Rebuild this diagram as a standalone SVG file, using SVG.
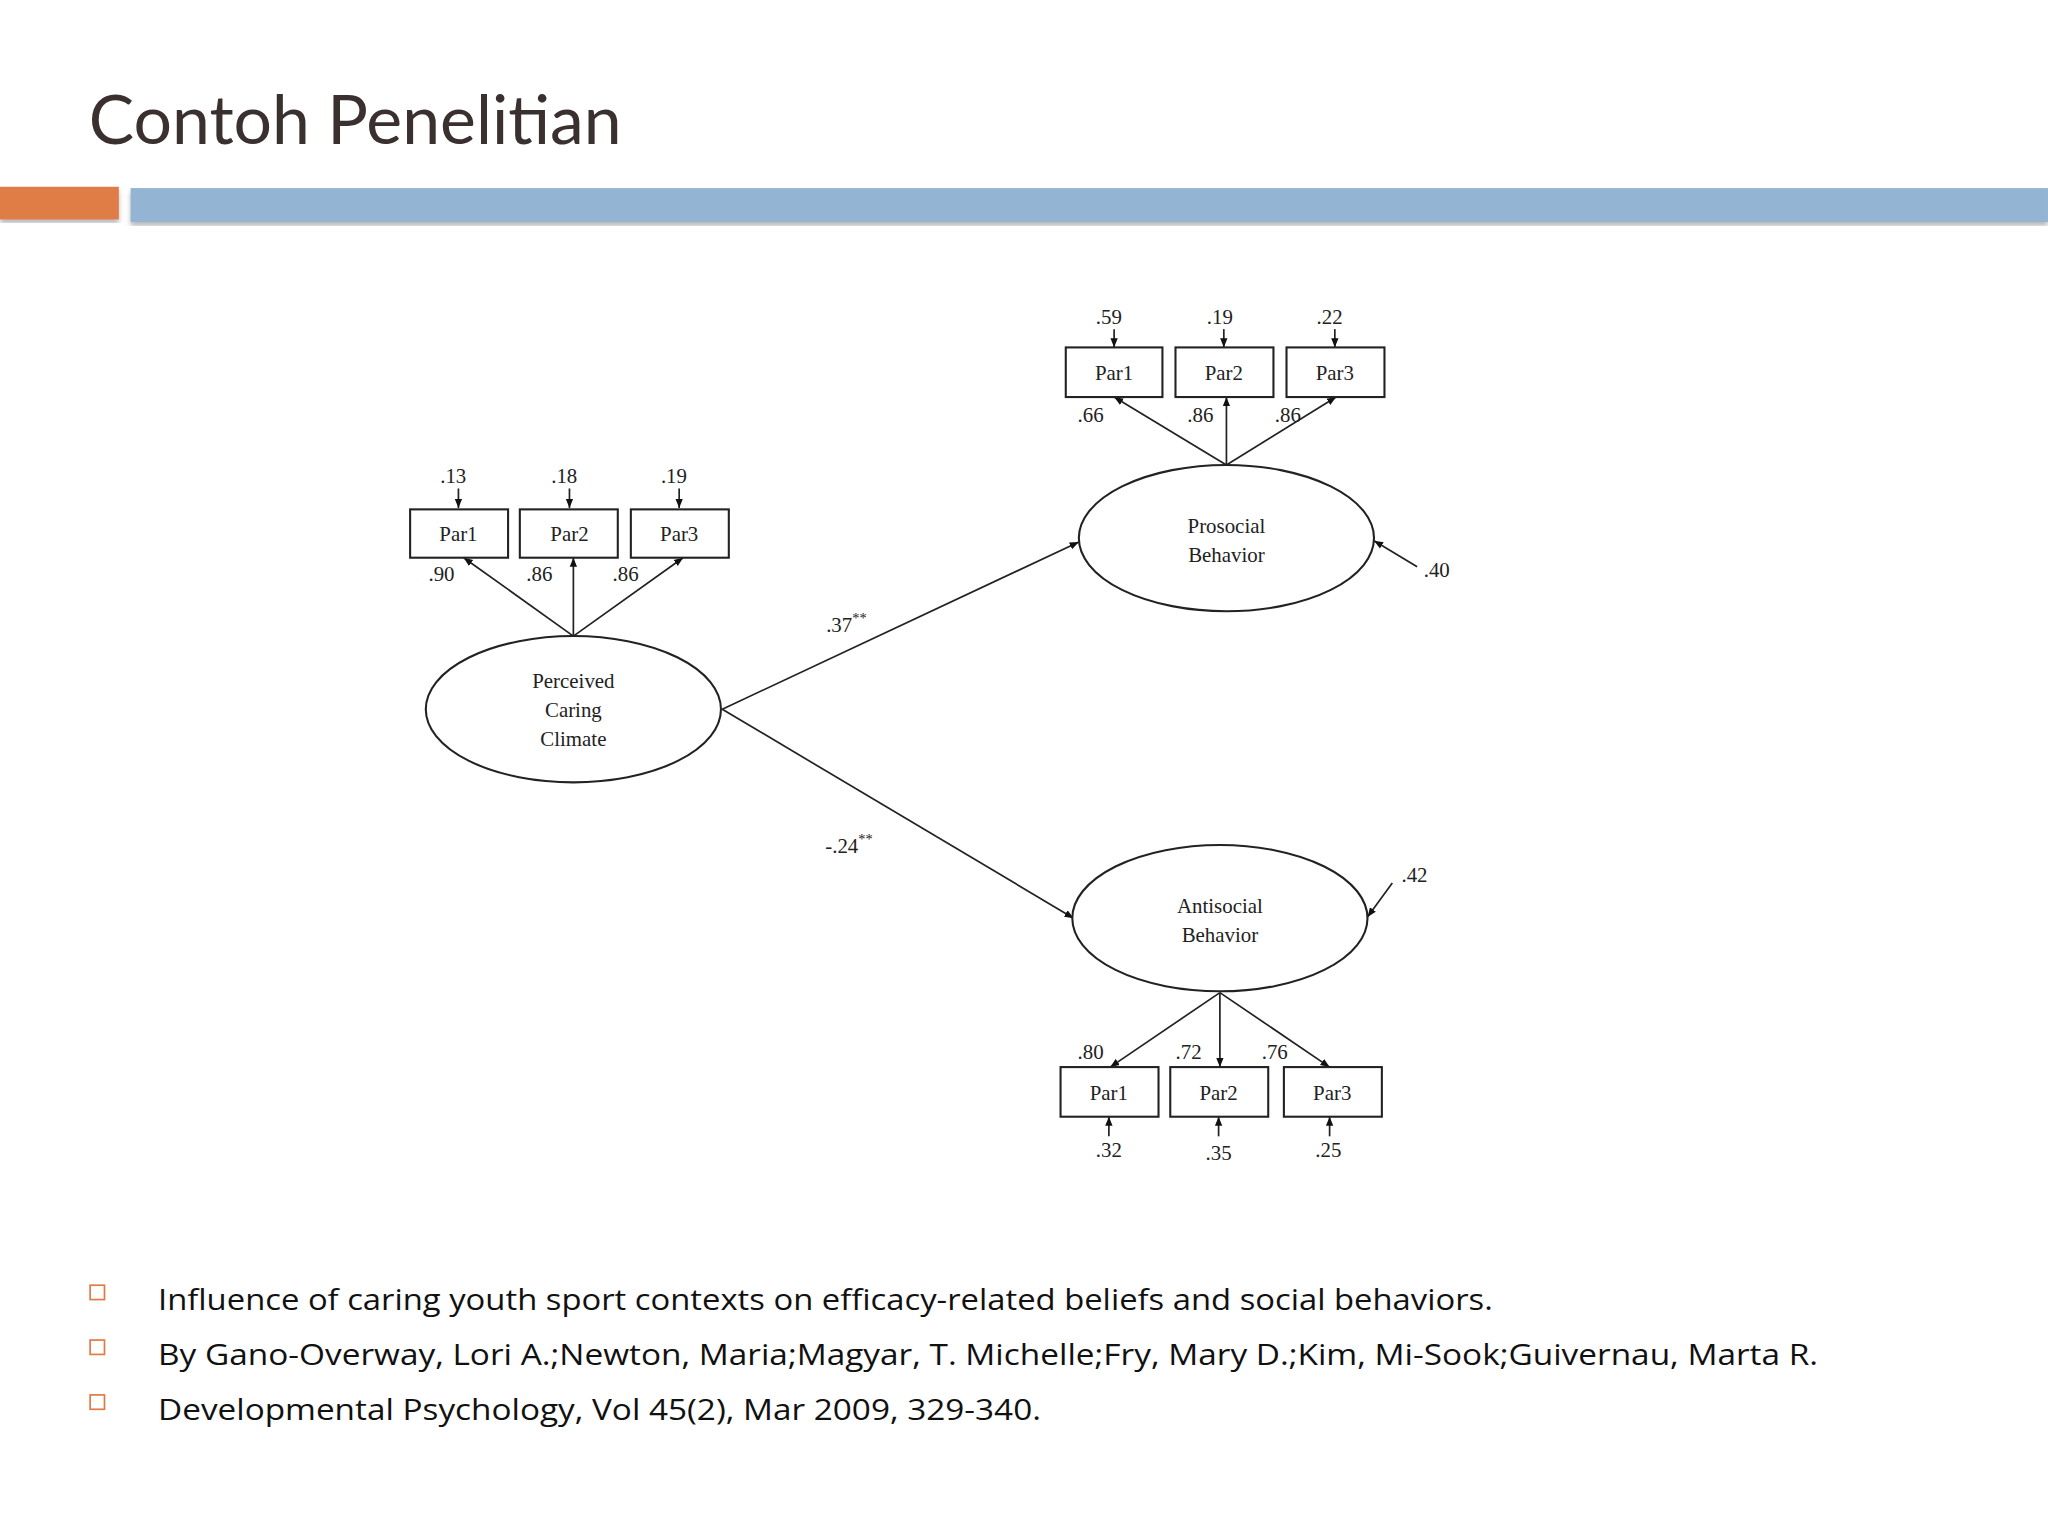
<svg xmlns="http://www.w3.org/2000/svg" width="2048" height="1536" viewBox="0 0 2048 1536">
<defs>
<marker id="ah" viewBox="0 0 10 10" refX="10" refY="5" markerWidth="7" markerHeight="7" orient="auto-start-reverse" markerUnits="userSpaceOnUse"><path d="M0,1 L10,5 L0,9 z" fill="#111"/></marker>
<filter id="sh"><feDropShadow dx="0" dy="3" stdDeviation="2" flood-color="#888" flood-opacity="0.6"/></filter>
</defs>
<style>
.n{fill:#fff;stroke:#222;stroke-width:1.6}
.t{font-family:"Liberation Serif",serif;font-size:16px;fill:#222;text-anchor:middle}
.c line{stroke:#222;stroke-width:1.3;marker-end:url(#ah)}
.b{font-family:"Open Sans",sans-serif;font-size:23px;fill:#111}
.sq{fill:none;stroke:#e07b45;stroke-width:1.3}
</style>
<rect width="2048" height="1536" fill="#fff"/>
<g transform="scale(1.3061)">
<text x="68" y="110" font-family="Lato,'Open Sans',sans-serif" font-size="52" fill="#3a3030">Contoh Penelitian</text>
<rect x="0" y="143" width="91" height="25" fill="#e07b45" filter="url(#sh)"/>
<rect x="100" y="144" width="1468" height="26" fill="#93b5d3" filter="url(#sh)"/>

<g class="c">
<line x1="439" y1="487" x2="355" y2="427"/><line x1="439" y1="487" x2="439" y2="427"/><line x1="439" y1="487" x2="523" y2="427"/>
<line x1="351" y1="374" x2="351" y2="389"/><line x1="436" y1="374" x2="436" y2="389"/><line x1="520" y1="374" x2="520" y2="389"/>
<line x1="939" y1="356" x2="853" y2="304"/><line x1="939" y1="356" x2="939" y2="304"/><line x1="939" y1="356" x2="1023" y2="304"/>
<line x1="853" y1="252" x2="853" y2="266"/><line x1="937" y1="252" x2="937" y2="266"/><line x1="1022" y1="252" x2="1022" y2="266"/>
<line x1="1085" y1="434" x2="1052" y2="414"/>
<line x1="934" y1="760" x2="850" y2="817"/><line x1="934" y1="760" x2="934" y2="817"/><line x1="934" y1="760" x2="1018" y2="817"/>
<line x1="849" y1="870" x2="849" y2="855"/><line x1="933" y1="870" x2="933" y2="855"/><line x1="1018" y1="870" x2="1018" y2="855"/>
<line x1="1066" y1="676" x2="1047" y2="702"/>
<line x1="553" y1="543" x2="826" y2="415"/>
<line x1="553" y1="543" x2="822" y2="703"/>
</g>

<g id="pcc"><ellipse class="n" cx="439" cy="543" rx="113" ry="56"/><text class="t" x="439" y="527">Perceived</text><text class="t" x="439" y="549">Caring</text><text class="t" x="439" y="571">Climate</text></g>
<g id="pro"><ellipse class="n" cx="939" cy="412" rx="113" ry="56"/><text class="t" x="939" y="408">Prosocial</text><text class="t" x="939" y="430">Behavior</text></g>
<g id="anti"><ellipse class="n" cx="934" cy="703" rx="113" ry="56"/><text class="t" x="934" y="699">Antisocial</text><text class="t" x="934" y="721">Behavior</text></g>

<g id="l1"><rect class="n" x="314" y="390" width="75" height="37"/><text class="t" x="351" y="414">Par1</text></g>
<g id="l2"><rect class="n" x="398" y="390" width="75" height="37"/><text class="t" x="436" y="414">Par2</text></g>
<g id="l3"><rect class="n" x="483" y="390" width="75" height="37"/><text class="t" x="520" y="414">Par3</text></g>
<g id="p1"><rect class="n" x="816" y="266" width="74" height="38"/><text class="t" x="853" y="291">Par1</text></g>
<g id="p2"><rect class="n" x="900" y="266" width="75" height="38"/><text class="t" x="937" y="291">Par2</text></g>
<g id="p3"><rect class="n" x="985" y="266" width="75" height="38"/><text class="t" x="1022" y="291">Par3</text></g>
<g id="a1"><rect class="n" x="812" y="817" width="75" height="38"/><text class="t" x="849" y="842">Par1</text></g>
<g id="a2"><rect class="n" x="896" y="817" width="75" height="38"/><text class="t" x="933" y="842">Par2</text></g>
<g id="a3"><rect class="n" x="983" y="817" width="75" height="38"/><text class="t" x="1020" y="842">Par3</text></g>

<g class="t">
<text x="347" y="370">.13</text><text x="432" y="370">.18</text><text x="516" y="370">.19</text>
<text x="338" y="445">.90</text><text x="413" y="445">.86</text><text x="479" y="445">.86</text>
<text x="849" y="248">.59</text><text x="934" y="248">.19</text><text x="1018" y="248">.22</text>
<text x="835" y="323">.66</text><text x="919" y="323">.86</text><text x="986" y="323">.86</text>
<text x="1100" y="442">.40</text><text x="1083" y="675">.42</text>
<text x="835" y="811">.80</text><text x="910" y="811">.72</text><text x="976" y="811">.76</text>
<text x="849" y="886">.32</text><text x="933" y="888">.35</text><text x="1017" y="886">.25</text>
<text x="648" y="484">.37<tspan font-size="11" dy="-7">**</tspan></text>
<text x="650" y="653">-.24<tspan font-size="11" dy="-7">**</tspan></text>
</g>

<rect class="sq" x="69" y="984" width="11" height="11"/>
<rect class="sq" x="69" y="1026" width="11" height="11"/>
<rect class="sq" x="69" y="1068" width="11" height="11"/>
<text class="b" x="121" y="1003" textLength="1022" lengthAdjust="spacingAndGlyphs">Influence of caring youth sport contexts on efficacy-related beliefs and social behaviors.</text>
<text class="b" x="121" y="1045" textLength="1271" lengthAdjust="spacingAndGlyphs">By Gano-Overway, Lori A.;Newton, Maria;Magyar, T. Michelle;Fry, Mary D.;Kim, Mi-Sook;Guivernau, Marta R.</text>
<text class="b" x="121" y="1087" textLength="676" lengthAdjust="spacingAndGlyphs">Developmental Psychology, Vol 45(2), Mar 2009, 329-340.</text>
</g>
</svg>
